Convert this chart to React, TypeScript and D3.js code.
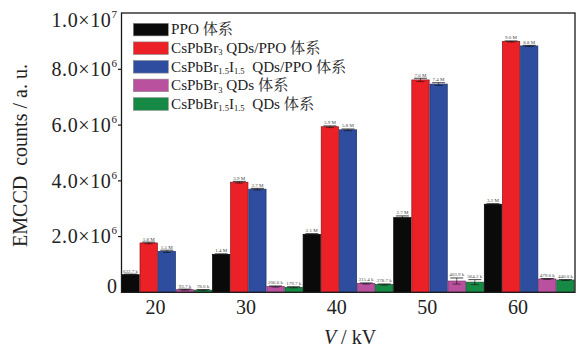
import React from "react";
import * as d3 from "d3";

const categories = ["20", "30", "40", "50", "60"];
const seriesKeys = ["ppo", "br3ppo", "brippo", "br3", "bri"];

const ppoValues = [0.6327e6, 1.36e6, 2.08e6, 2.68e6, 3.16e6];
const br3PpoValues = [1.77e6, 3.95e6, 5.94e6, 7.62e6, 9.0e6];
const briPpoValues = [1.47e6, 3.7e6, 5.83e6, 7.47e6, 8.84e6];
const br3Values = [0.0937e6, 0.2066e6, 0.3154e6, 0.4039e6, 0.479e6];
const briValues = [0.078e6, 0.1797e6, 0.2787e6, 0.3642e6, 0.44e6];

const ppoErrors = [20e3, 20e3, 25e3, 60e3, 20e3];
const br3PpoErrors = [30e3, 30e3, 30e3, 60e3, 20e3];
const briPpoErrors = [40e3, 30e3, 30e3, 50e3, 20e3];
const br3Errors = [20e3, 20e3, 20e3, 110e3, 15e3];
const briErrors = [20e3, 20e3, 20e3, 90e3, 15e3];

const ppoLabels = ["632.7 k", "1.4 M", "2.1 M", "2.7 M", "3.2 M"];
const br3PpoLabels = ["1.8 M", "3.9 M", "5.9 M", "7.6 M", "9.0 M"];
const briPpoLabels = ["1.5 M", "3.7 M", "5.8 M", "7.4 M", "8.8 M"];
const br3Labels = ["93.7 k", "206.6 k", "315.4 k", "403.9 k", "479.0 k"];
const briLabels = ["78.0 k", "179.7 k", "278.7 k", "364.2 k", "440.0 k"];

const seriesColors = ["#0a0a0a", "#ec2027", "#2f4d9f", "#b9519f", "#168a44"];
const seriesStrokes = ["#000000", "#8a1015", "#1b2f66", "#7a2f68", "#0c5029"];

const legendLabels: { t: string; sub?: boolean }[][] = [
  [{ t: "PPO 体系" }],
  [{ t: "CsPbBr" }, { t: "3", sub: true }, { t: " QDs/PPO 体系" }],
  [{ t: "CsPbBr" }, { t: "1.5", sub: true }, { t: "I" }, { t: "1.5", sub: true }, { t: "  QDs/PPO 体系" }],
  [{ t: "CsPbBr" }, { t: "3", sub: true }, { t: " QDs 体系" }],
  [{ t: "CsPbBr" }, { t: "1.5", sub: true }, { t: "I" }, { t: "1.5", sub: true }, { t: "  QDs 体系" }],
];

const yTicks = [0, 2e6, 4e6, 6e6, 8e6, 1e7];
const yTickMantissa = ["0", "2.0×10", "4.0×10", "6.0×10", "8.0×10", "1.0×10"];
const yTickExp = ["", "6", "6", "6", "6", "7"];

const W = 577;
const H = 349;
const M = { left: 121.5, right: 574.5, top: 13.6, bottom: 292.3 };
const SERIF = "'Liberation Serif', 'Times New Roman', 'Noto Serif CJK SC', 'Noto Sans CJK SC', serif";

export default function App() {
  const valuesBySeries = [ppoValues, br3PpoValues, briPpoValues, br3Values, briValues];
  const errorsBySeries = [ppoErrors, br3PpoErrors, briPpoErrors, br3Errors, briErrors];
  const labelsBySeries = [ppoLabels, br3PpoLabels, briPpoLabels, br3Labels, briLabels];

  const x0 = d3.scaleBand<string>().domain(categories).range([M.left, M.right]).padding(0);
  const x1 = d3.scaleBand<string>().domain(seriesKeys).range([0, x0.bandwidth()]).padding(0);
  const y = d3.scaleLinear().domain([0, 1e7]).range([M.bottom, M.top]);

  const bw = x1.bandwidth();

  return (
    <svg
      width={W}
      height={H}
      viewBox={`0 0 ${W} ${H}`}
      style={{ position: "absolute", left: 0, top: 0, background: "#fff" }}
      fontFamily={SERIF}
    >
      {/* bars */}
      {categories.map((c, ci) => (
        <g key={c}>
          {seriesKeys.map((s, si) => {
            const v = valuesBySeries[si][ci];
            const e = errorsBySeries[si][ci];
            const bx = (x0(c) as number) + (x1(s) as number);
            const cx = bx + bw / 2;
            const top = y(v);
            const eTop = y(v + e);
            const eBot = y(Math.max(0, v - e));
            return (
              <g key={s}>
                <rect
                  x={bx + 0.4}
                  y={top}
                  width={bw - 0.8}
                  height={M.bottom - top}
                  fill={seriesColors[si]}
                  stroke={seriesStrokes[si]}
                  strokeWidth={0.7}
                />
                <line x1={cx} x2={cx} y1={eTop} y2={eBot} stroke="#111" strokeWidth={0.6} />
                <line x1={cx - 6.5} x2={cx + 6.5} y1={eTop} y2={eTop} stroke="#111" strokeWidth={0.8} />
                <line x1={cx - 4} x2={cx + 4} y1={eBot} y2={eBot} stroke="#111" strokeWidth={0.6} />
                <text
                  x={cx}
                  y={eTop - 1.6}
                  textAnchor="middle"
                  fontSize={5}
                  fill="#444"
                >
                  {labelsBySeries[si][ci]}
                </text>
              </g>
            );
          })}
        </g>
      ))}

      {/* frame */}
      <rect
        x={M.left}
        y={M.top - 0.6}
        width={M.right - M.left + 0.5}
        height={M.bottom - M.top + 0.6}
        fill="none"
        stroke="#1a1a1a"
        strokeWidth={1.3}
      />

      {/* y ticks */}
      {yTicks.map((t, i) => {
        const ty = y(t);
        let shift = 0;
        if (i === 0) shift = -6;
        if (i === yTicks.length - 1) shift = 7;
        return (
          <g key={t}>
            {i > 0 && i < yTicks.length - 1 && (
              <line x1={M.left - 3.5} x2={M.left} y1={ty} y2={ty} stroke="#1a1a1a" strokeWidth={1.2} />
            )}
            <text
              x={i === 0 ? 117 : 117.5}
              y={ty + shift + 6.8}
              textAnchor="end"
              fontSize={20}
              fill="#222"
              letterSpacing={i === 0 ? 0 : 0.6}
            >
              {yTickMantissa[i]}
              {yTickExp[i] && (
                <tspan fontSize={11} dy={-9}>
                  {yTickExp[i]}
                </tspan>
              )}
            </text>
          </g>
        );
      })}

      {/* x tick labels */}
      {categories.map((c) => (
        <text
          key={c}
          x={(x0(c) as number) + x0.bandwidth() * 0.375}
          y={313.5}
          textAnchor="middle"
          fontSize={20}
          fill="#222"
        >
          {c}
        </text>
      ))}

      {/* x title */}
      <text x={350} y={344} textAnchor="middle" fontSize={20} fill="#222">
        <tspan fontStyle="italic">V</tspan>
        <tspan> / kV</tspan>
      </text>

      {/* y title */}
      <text
        transform={`translate(27.3, 155.5) rotate(-90)`}
        textAnchor="middle"
        fontSize={20}
        fill="#222"
        style={{ whiteSpace: "pre" }}
      >
        {"EMCCD  counts / a. u."}
      </text>

      {/* legend */}
      {legendLabels.map((segs, i) => {
        const ry = 23.3 + i * 18.6;
        return (
          <g key={i}>
            <rect x={133.3} y={ry} width={35} height={12.6} fill={seriesColors[i]} stroke="#8a8a8a" strokeWidth={0.6} />
            <text x={171} y={ry + 11} fontSize={15.2} fill="#222" style={{ whiteSpace: "pre" }}>
              {segs.map((sg, k) =>
                sg.sub ? (
                  <tspan key={k} fontSize={8.5} dy={2.5}>
                    {sg.t}
                  </tspan>
                ) : (
                  <tspan key={k} dy={k > 0 && segs[k - 1].sub ? -2.5 : 0}>
                    {sg.t}
                  </tspan>
                )
              )}
            </text>
          </g>
        );
      })}
    </svg>
  );
}
